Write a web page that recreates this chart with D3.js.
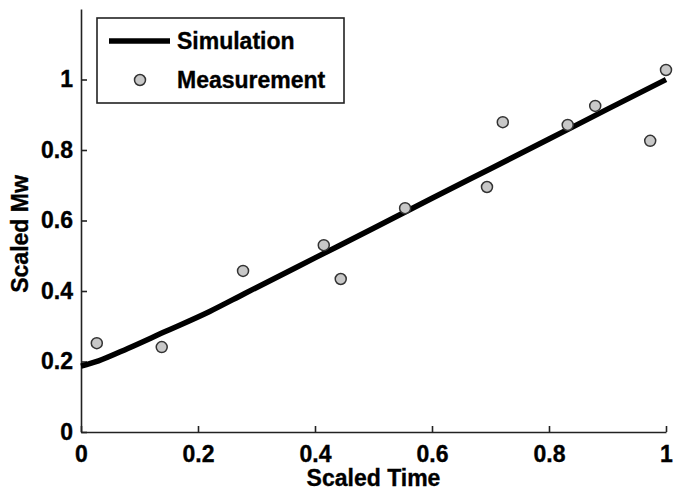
<!DOCTYPE html>
<html>
<head>
<meta charset="utf-8">
<script src="https://cdn.jsdelivr.net/npm/d3@7"></script>
<style>
  html, body { margin: 0; padding: 0; background: #fff; }
  text { font-family: "Liberation Sans", Arial, sans-serif; font-weight: bold; fill: #000; stroke: #000; stroke-width: 0.35px; }
</style>
</head>
<body>
<svg id="chart" width="681" height="493"></svg>
<script>
// Simulation curve
const simX = [0, 0.03, 0.08, 0.14, 0.22, 0.28, 0.4, 0.5, 0.6, 0.7, 0.8, 0.9, 1.0];
const simY = [0.187, 0.202, 0.237, 0.282, 0.342, 0.393, 0.494, 0.578, 0.663, 0.747, 0.831, 0.916, 1.0];
// Measurements
const measX = [0.027, 0.138, 0.277, 0.415, 0.444, 0.554, 0.694, 0.721, 0.832, 0.879, 0.973, 1.0];
const measY = [0.252, 0.241, 0.457, 0.530, 0.434, 0.635, 0.695, 0.879, 0.871, 0.925, 0.826, 1.027];
const xTicks = [0, 0.2, 0.4, 0.6, 0.8, 1];
const yTicks = [0, 0.2, 0.4, 0.6, 0.8, 1];
const legendLabels = ["Simulation", "Measurement"];
const xLabel = "Scaled Time";
const yLabel = "Scaled Mw";

(function () {
const svg = d3.select("#chart");
const mLeft = 81, mRight = 666, mTop = 9, mBottom = 432;
const x = d3.scaleLinear().domain([0, 1]).range([mLeft, mRight]);
const y = d3.scaleLinear().domain([0, 1.2]).range([mBottom, mTop]);
const fontSize = 23;

// Axes
const xAxis = d3.axisBottom(x).tickValues(xTicks).tickFormat(d3.format("~g")).tickSizeInner(-6).tickSizeOuter(0).tickPadding(14);
const yAxis = d3.axisLeft(y).tickValues(yTicks).tickFormat(d3.format("~g")).tickSizeInner(-6).tickSizeOuter(0).tickPadding(8);

const gx = svg.append("g").attr("transform", `translate(0,${mBottom})`).call(xAxis);
const gy = svg.append("g").attr("transform", `translate(${mLeft},0)`).call(yAxis);
[gx, gy].forEach(g => {
  g.select(".domain").attr("stroke", "#222").attr("stroke-width", 1.6);
  g.selectAll(".tick line").attr("stroke", "#222").attr("stroke-width", 1.6);
  g.selectAll(".tick text").attr("font-size", fontSize).attr("font-family", "Liberation Sans, Arial, sans-serif").attr("font-weight", "bold").attr("fill", "#000");
});

// Simulation line
const simData = simX.map((d, i) => [d, simY[i]]);
svg.append("path")
  .datum(simData)
  .attr("fill", "none")
  .attr("stroke", "#000")
  .attr("stroke-width", 5.5)
  .attr("stroke-linejoin", "round")
  .attr("d", d3.line().curve(d3.curveMonotoneX).x(d => x(d[0])).y(d => y(d[1])));

// Measurement points
svg.append("g").selectAll("circle")
  .data(measX.map((d, i) => [d, measY[i]]))
  .join("circle")
  .attr("cx", d => x(d[0]))
  .attr("cy", d => y(d[1]))
  .attr("r", 5.5)
  .attr("fill", "#c8c8c8")
  .attr("stroke", "#333")
  .attr("stroke-width", 1.5);

// Axis labels
svg.append("text")
  .attr("x", (mLeft + mRight) / 2)
  .attr("y", 486)
  .attr("text-anchor", "middle")
  .attr("font-size", fontSize)
  .text(xLabel);

svg.append("text")
  .attr("transform", `translate(28,234) rotate(-90)`)
  .attr("text-anchor", "middle")
  .attr("font-size", fontSize)
  .text(yLabel);

// Legend
const lg = svg.append("g");
lg.append("rect")
  .attr("x", 97).attr("y", 18).attr("width", 247).attr("height", 85)
  .attr("fill", "#fff").attr("stroke", "#222").attr("stroke-width", 1.6);
lg.append("line")
  .attr("x1", 109).attr("x2", 170).attr("y1", 41).attr("y2", 41)
  .attr("stroke", "#000").attr("stroke-width", 5.5);
lg.append("circle")
  .attr("cx", 140).attr("cy", 80).attr("r", 5.5)
  .attr("fill", "#c8c8c8").attr("stroke", "#333").attr("stroke-width", 1.5);
lg.selectAll("text.leg")
  .data(legendLabels)
  .join("text")
  .attr("class", "leg")
  .attr("x", 177)
  .attr("y", (d, i) => 49 + i * 39)
  .attr("font-size", fontSize)
  .text(d => d);
})();
</script>
</body>
</html>
